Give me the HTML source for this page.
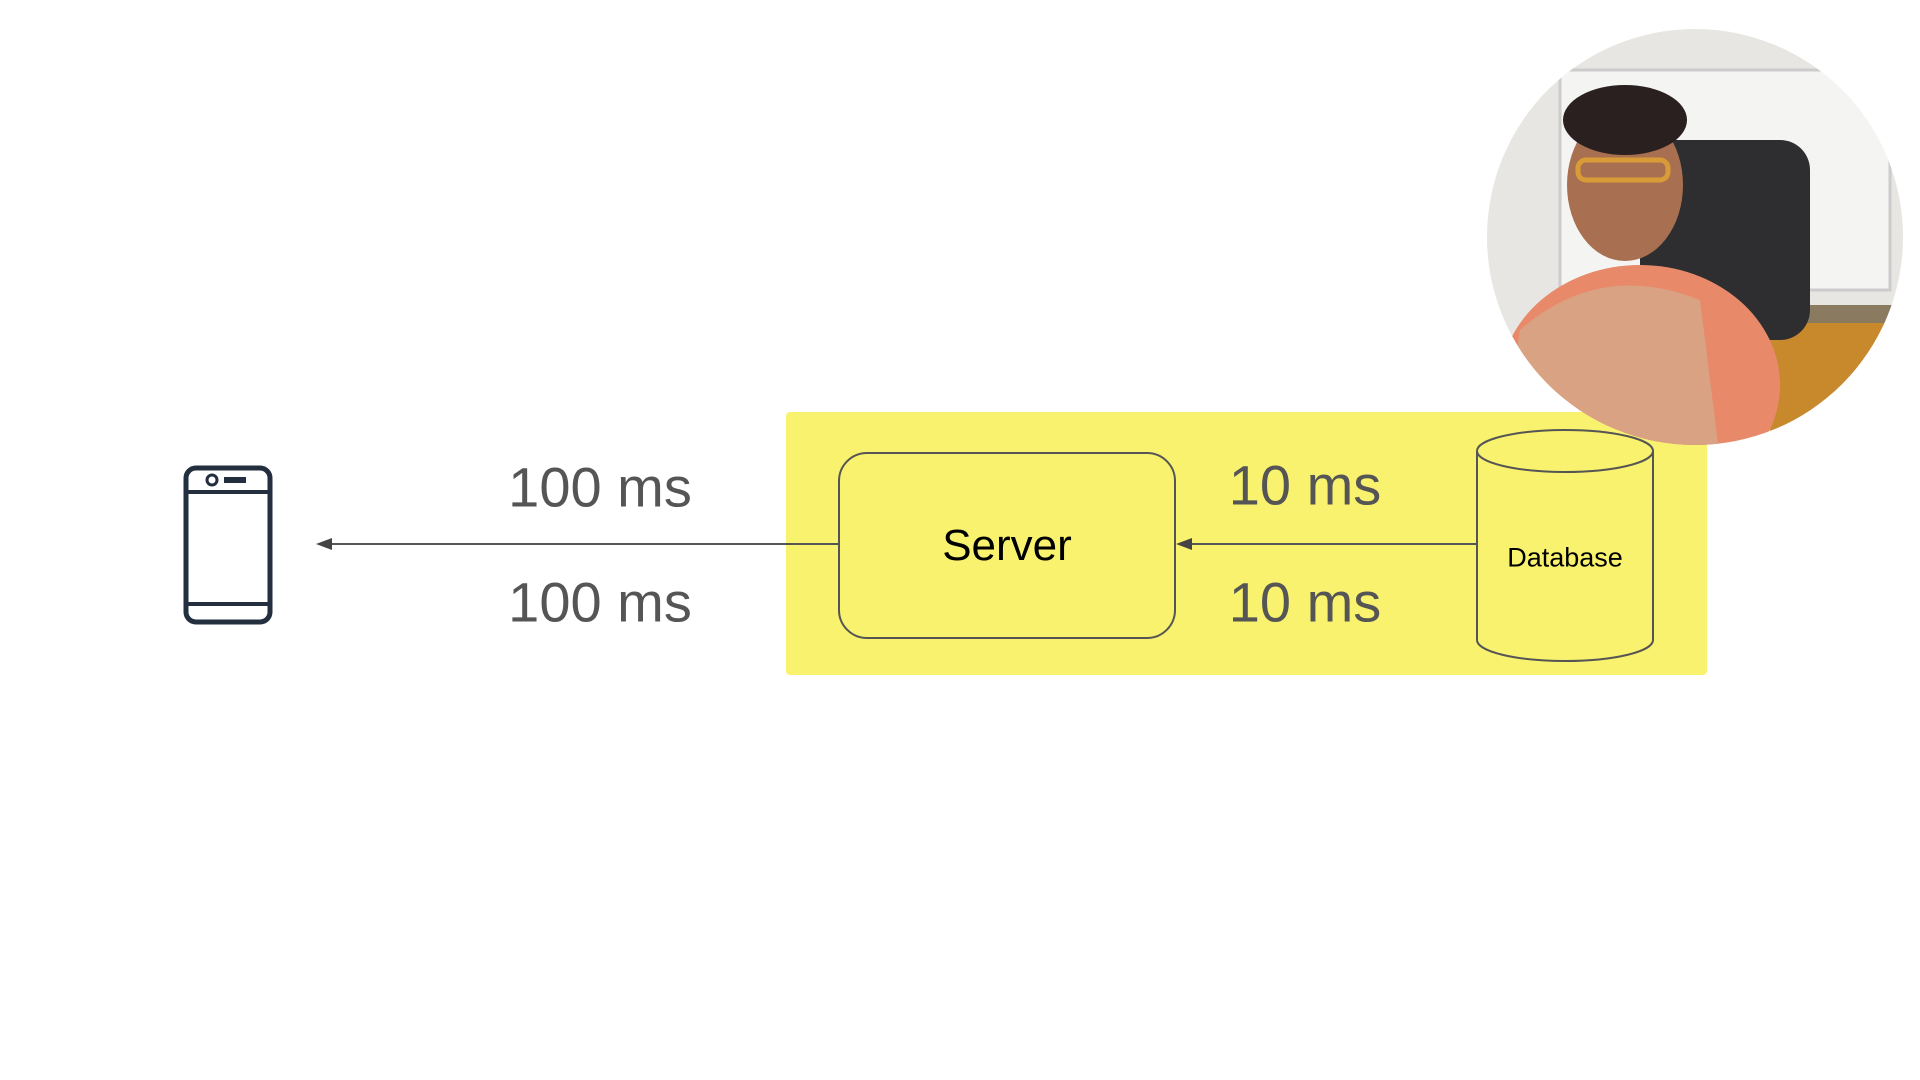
<!DOCTYPE html>
<html><head><style>
body{margin:0;width:1920px;height:1080px;background:#fff;position:relative;overflow:hidden;font-family:"Liberation Sans",sans-serif}
.t{position:absolute;color:#555;font-size:56px;transform:translate(-50%,-50%);white-space:nowrap}
</style></head><body>
<div style="position:absolute;left:786px;top:412px;width:921px;height:263px;background:#f9f26e;border-radius:4px"></div>
<svg width="1920" height="1080" style="position:absolute;left:0;top:0">
<defs>
<clipPath id="c"><circle cx="1695" cy="237" r="208"/></clipPath>
</defs>
<rect x="186" y="468" width="84" height="154" rx="10" fill="none" stroke="#232f3e" stroke-width="5"/>
<line x1="186" y1="492" x2="270" y2="492" stroke="#232f3e" stroke-width="4"/>
<line x1="186" y1="604" x2="270" y2="604" stroke="#232f3e" stroke-width="4"/>
<circle cx="212" cy="480" r="5" fill="none" stroke="#232f3e" stroke-width="3"/>
<rect x="224" y="477" width="22" height="6" fill="#232f3e"/>
<line x1="326" y1="544" x2="838" y2="544" stroke="#555" stroke-width="2"/>
<polygon points="316,544 332,538 332,550" fill="#444"/>
<line x1="1186" y1="544" x2="1477" y2="544" stroke="#555" stroke-width="2"/>
<polygon points="1176,544 1192,538 1192,550" fill="#444"/>
<rect x="839" y="453" width="336" height="185" rx="28" fill="none" stroke="#555" stroke-width="2"/>
<path d="M1477,451 L1477,640 A88,21 0 0 0 1653,640 L1653,451" fill="none" stroke="#555" stroke-width="2"/>
<ellipse cx="1565" cy="451" rx="88" ry="21" fill="none" stroke="#555" stroke-width="2"/>
<g clip-path="url(#c)">
<rect x="1480" y="20" width="440" height="440" fill="#e8e6e2"/>
<rect x="1560" y="70" width="330" height="220" fill="#f4f4f2" stroke="#ccc" stroke-width="3"/>
<rect x="1770" y="320" width="150" height="140" fill="#c8882c"/>
<rect x="1770" y="305" width="150" height="18" fill="#8a7a60"/>
<rect x="1640" y="140" width="170" height="200" rx="30" fill="#2e2e30"/>
<ellipse cx="1640" cy="385" rx="140" ry="120" fill="#e88a6a"/>
<path d="M1520,330 Q1600,260 1700,300 L1720,460 L1500,460Z" fill="#d9a282"/>
<ellipse cx="1625" cy="185" rx="58" ry="76" fill="#a87050"/>
<ellipse cx="1625" cy="120" rx="62" ry="35" fill="#2a2020"/>
<rect x="1578" y="160" width="90" height="20" rx="8" fill="none" stroke="#d99b38" stroke-width="5"/>
</g>
</svg>
<div class="t" style="left:600px;top:487px">100 ms</div>
<div class="t" style="left:600px;top:602px">100 ms</div>
<div class="t" style="left:1305px;top:485px">10 ms</div>
<div class="t" style="left:1305px;top:602px">10 ms</div>
<div class="t" style="left:1007px;top:546px;font-size:44px;color:#000">Server</div>
<div class="t" style="left:1565px;top:558px;font-size:27px;color:#000">Database</div>
</body></html>
